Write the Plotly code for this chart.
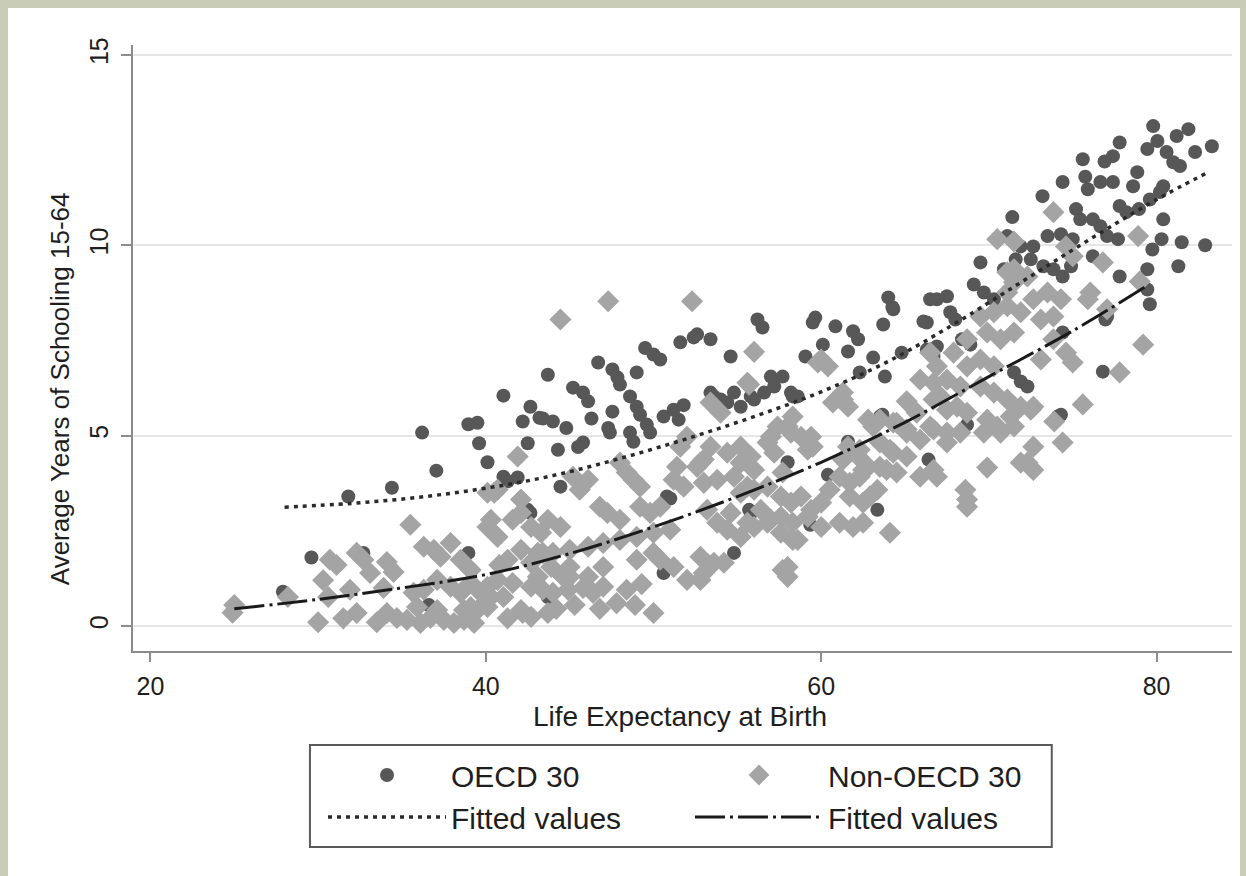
import plotly.graph_objects as go

# ---- OECD 30 (life expectancy, average years of schooling) ----
oecd_life = [
    27.9, 29.6, 31.8, 34.4, 36.2, 37.05, 38.96, 39.5, 39.6, 40.1, 41.05, 42.66, 42.2, 42.5, 43.2,
    43.7, 42.66, 38.96, 32.7, 36.6, 41.3, 41.9, 43.4, 44.0, 44.8, 44.3, 44.45, 45.2, 45.8, 46.1,
    46.3, 45.8, 45.5, 46.7, 47.55, 47.85, 48.0, 47.55, 47.3, 47.4, 48.6, 49.0, 49.2, 49.6, 49.8,
    49.0, 48.6, 48.8, 49.5, 50.0, 50.4, 50.6, 51.2, 51.8, 51.5, 51.6, 52.4, 52.6, 53.4, 54.6,
    56.2, 56.5, 59.06, 59.65, 50.8, 51.0, 58.0, 55.7, 59.35, 54.8, 43.7, 50.6, 53.4, 54.0, 54.8,
    55.8, 56.6, 57.2, 57.7, 58.3, 57.0, 41.05, 42.5, 59.5, 60.85, 61.9, 62.2, 60.1, 61.6, 63.8,
    63.1, 62.3, 64.0, 64.25, 63.7, 66.5, 66.3, 53.6, 54.4, 55.2, 56.0, 58.2, 58.6, 63.65, 61.6,
    60.4, 66.4, 55.9, 63.35, 79.8, 81.9, 81.2, 83.3, 82.3, 77.8, 77.4, 76.9, 75.6, 79.45, 80.05,
    80.6, 81.0, 81.4, 74.4, 75.75, 75.9, 76.65, 77.4, 78.85, 78.6, 73.2, 80.4, 77.8, 78.2, 78.95,
    79.6, 80.2, 75.2, 75.45, 76.2, 76.65, 80.4, 71.4, 80.3, 79.75, 79.45, 81.5, 81.3, 77.7, 77.8,
    77.05, 76.2, 75.0, 74.3, 73.5, 72.65, 71.9, 71.1, 74.9, 74.4, 73.85, 73.25, 72.5, 71.6, 70.9,
    69.5, 69.1, 69.7, 70.3, 79.45, 76.95, 76.8, 67.5, 66.9, 67.7, 68.0, 66.1, 64.3, 66.3, 66.7,
    71.9, 72.3, 68.7, 74.1, 71.5, 68.4, 68.9, 66.9, 74.4, 64.8, 77.05, 63.5, 74.3, 82.9, 79.6,
]
oecd_school = [
    0.9, 1.8, 3.4, 3.63, 5.08, 4.08, 5.3, 5.34, 4.8, 4.3, 6.05, 5.76, 5.37, 4.8, 5.47,
    6.6, 2.97, 1.92, 1.92, 0.55, 3.8, 3.9, 5.45, 5.37, 5.2, 4.63, 3.66, 6.26, 6.13, 5.9,
    5.45, 4.82, 4.7, 6.92, 6.74, 6.53, 6.34, 5.63, 5.2, 5.08, 6.03, 5.76, 5.55, 5.29, 5.08,
    6.66, 5.08, 4.84, 7.3, 7.13, 7.0, 5.5, 5.68, 5.8, 5.42, 7.45, 7.58, 7.66, 7.53, 7.08,
    8.05, 7.84, 7.08, 8.1, 3.4, 3.35, 4.3, 3.05, 2.66, 1.92, 0.76, 1.39, 6.13, 5.95, 6.13,
    6.03, 6.13, 6.29, 6.55, 6.03, 6.55, 3.92, 3.05, 7.97, 7.87, 7.74, 7.53, 7.39, 7.21, 6.55,
    7.05, 6.66, 8.63, 8.37, 7.92, 8.58, 7.97, 6.03, 5.87, 5.76, 5.95, 6.13, 6.03, 5.55, 4.84,
    3.97, 4.37, 3.0, 3.05, 13.13, 13.05, 12.87, 12.6, 12.45, 12.7, 12.34, 12.2, 12.26, 12.53, 12.74,
    12.45, 12.18, 12.08, 11.66, 11.8, 11.47, 11.66, 11.66, 11.92, 11.55, 11.29, 11.55, 11.03, 10.87, 10.95,
    11.2, 11.4, 10.95, 10.68, 10.68, 10.5, 10.68, 10.74, 10.16, 9.89, 9.37, 10.08, 9.45, 10.16, 9.18,
    10.24, 9.71, 10.16, 10.29, 10.24, 9.97, 9.97, 10.24, 9.45, 9.18, 9.37, 9.45, 9.63, 9.63, 9.37,
    9.55, 8.97, 8.76, 8.58, 8.84, 8.05, 6.68, 8.66, 8.58, 8.24, 8.05, 8.0, 8.32, 7.26, 7.08,
    6.42, 6.29, 5.29, 5.5, 6.66, 7.53, 7.39, 7.34, 7.71, 7.18, 8.13, 5.5, 5.55, 10.0, 8.45,
]

# ---- Non-OECD 30 ----
non_life = [
    24.9, 25.0, 28.2, 30.0, 30.3, 30.7, 31.1, 30.6, 31.5, 32.3, 32.3, 32.7, 33.1, 31.9, 33.5,
    34.1, 34.7, 34.1, 34.5, 33.9, 35.5, 36.3, 36.9, 37.3, 37.9, 35.7, 36.3, 35.9, 35.3, 36.1,
    36.7, 37.5, 38.1, 38.7, 37.1, 37.9, 38.5, 39.1, 39.7, 40.3, 38.7, 39.5, 40.1, 39.3, 40.3,
    40.7, 40.5, 42.1, 41.9, 41.6, 42.7, 43.3, 41.3, 42.1, 42.7, 43.4, 40.7, 41.6, 42.7, 43.4,
    42.7, 42.2, 47.3, 52.3, 44.45, 56.0, 55.7, 53.4, 40.1, 40.7, 42.1, 40.1, 38.5, 39.1, 43.7,
    44.45, 45.2, 46.1, 45.6, 48.8, 49.2, 48.0, 48.4, 46.8, 47.25, 48.0, 49.2, 49.8, 50.4, 51.2,
    51.8, 51.4, 52.6, 53.0, 51.6, 52.0, 55.2, 55.8, 57.0, 58.0, 58.8, 57.7, 55.2, 56.0, 54.6,
    56.0, 57.0, 57.6, 58.3, 58.0, 58.0, 50.0, 48.4, 52.0, 53.0, 53.6, 51.2, 50.4, 45.0, 46.1,
    47.0, 46.4, 44.9, 42.1, 41.05, 44.0, 43.7, 43.1, 44.0, 45.0, 46.1, 47.0, 48.0, 49.0, 50.0,
    51.0, 43.1, 45.0, 47.0, 49.0, 50.0, 40.1, 39.1, 37.1, 55.6, 54.0, 61.3, 61.6, 59.8, 60.4,
    65.1, 65.7, 66.7, 67.1, 57.4, 58.2, 59.4, 56.8, 57.2, 59.2, 59.5, 53.4, 54.4, 55.2, 56.0,
    53.8, 54.8, 55.6, 52.8, 53.0, 56.8, 57.6, 58.2, 58.8, 59.4, 60.0, 56.4, 56.8, 57.6, 58.3,
    59.2, 60.0, 53.2, 53.8, 54.4, 55.2, 55.6, 52.8, 54.2, 52.8, 58.6, 57.7, 61.6, 62.2, 62.8,
    61.1, 61.7, 62.3, 61.7, 62.5, 63.35, 63.9, 61.1, 61.9, 62.5, 64.1, 64.3, 65.1, 65.9, 66.7,
    63.5, 64.3, 65.1, 65.9, 66.7, 62.8, 63.1, 73.85, 78.9, 71.5, 76.8, 76.05, 75.9, 77.05, 79.0,
    79.2, 77.8, 75.6, 74.4, 72.65, 72.3, 69.9, 68.7, 72.65, 68.6, 66.9, 62.9, 60.5, 63.5, 62.5,
    61.3, 69.5, 70.3, 71.1, 71.9, 72.65, 73.5, 74.3, 73.85, 73.1, 69.9, 70.7, 71.5, 68.7, 67.9,
    68.7, 69.5, 70.3, 74.6, 75.0, 73.1, 66.5, 66.9, 67.5, 68.3, 69.5, 70.3, 71.1, 71.9, 72.65,
    65.9, 66.7, 67.5, 68.7, 69.9, 70.7, 71.5, 68.3, 67.5, 64.5, 65.1, 63.5, 62.3, 64.1, 64.5,
    73.85, 71.5, 71.1, 72.3, 75.0, 74.6, 70.5, 60.0, 60.7, 61.3, 58.3, 71.5, 71.1, 73.9, 71.9,
    68.7, 67.5, 69.7, 70.5, 71.3, 72.5, 68.1, 66.5, 44.2, 45.3, 46.8, 47.8, 48.9, 49.3, 45.8,
    44.6, 41.3, 40.8, 43.9,
]
non_school = [
    0.35, 0.55, 0.76, 0.1, 1.2, 1.74, 1.6, 0.76, 0.2, 0.34, 1.92, 1.74, 1.39, 0.95, 0.1,
    0.34, 0.21, 1.68, 1.42, 1.0, 2.66, 2.08, 2.0, 1.82, 2.18, 0.87, 0.95, 0.5, 0.16, 0.08,
    0.21, 0.16, 0.08, 0.16, 1.21, 1.03, 0.87, 1.13, 0.87, 0.76, 0.42, 0.42, 0.5, 0.08, 2.79,
    2.34, 3.5, 3.32, 4.45, 2.79, 2.6, 2.45, 1.74, 2.0, 1.66, 1.92, 1.21, 1.13, 1.03, 0.95,
    0.24, 0.34, 8.53, 8.53, 8.05, 7.2, 6.34, 5.87, 3.5, 3.58, 2.97, 2.6, 1.74, 1.47, 2.79,
    2.6, 3.92, 3.84, 3.58, 3.84, 3.66, 4.29, 4.03, 3.13, 2.97, 2.79, 3.13, 2.97, 3.13, 3.84,
    3.66, 4.18, 4.18, 4.37, 4.71, 4.97, 4.71, 4.45, 4.97, 5.24, 4.97, 4.03, 3.5, 3.58, 2.97,
    2.6, 2.79, 2.87, 2.26, 1.55, 1.29, 0.34, 0.95, 1.21, 1.39, 1.66, 1.55, 1.74, 1.55, 1.29,
    1.03, 0.87, 0.95, 0.42, 0.76, 0.87, 0.34, 1.92, 1.92, 2.0, 2.08, 2.18, 2.26, 2.34, 2.45,
    2.53, 1.29, 1.29, 1.55, 1.74, 1.92, 1.03, 0.5, 0.42, 6.39, 5.6, 5.95, 5.76, 6.92, 6.82,
    5.9, 5.6, 6.39, 6.03, 5.24, 5.08, 4.97, 4.82, 4.55, 4.63, 4.71, 4.71, 4.55, 4.29, 4.1,
    3.84, 3.92, 3.66, 4.29, 3.76, 3.66, 3.4, 3.24, 3.4, 3.05, 3.24, 3.05, 2.71, 2.45, 2.71,
    2.87, 2.6, 3.05, 2.71, 2.53, 2.34, 2.71, 1.82, 1.66, 1.21, 2.26, 1.47, 4.71, 4.45, 4.18,
    3.92, 3.76, 3.92, 3.4, 3.24, 3.58, 4.1, 2.71, 2.6, 2.71, 2.45, 5.34, 5.16, 4.89, 5.16,
    4.82, 4.55, 4.45, 3.92, 4.1, 5.42, 5.24, 10.87, 10.24, 10.1, 9.55, 8.76, 8.58, 8.32, 9.05,
    7.39, 6.66, 5.82, 4.82, 4.71, 4.29, 4.16, 3.32, 4.1, 3.58, 3.92, 3.4, 3.58, 4.18, 4.1,
    4.37, 8.13, 8.24, 8.4, 8.24, 8.58, 8.76, 8.58, 8.13, 8.05, 7.71, 7.53, 7.71, 7.53, 7.18,
    6.82, 7.0, 6.82, 7.18, 6.92, 7.0, 7.18, 6.82, 6.47, 6.29, 6.29, 6.13, 5.95, 5.76, 5.76,
    6.47, 5.95, 5.68, 5.6, 5.42, 5.08, 5.24, 5.08, 5.08, 5.34, 5.08, 5.42, 4.63, 4.63, 4.03,
    7.53, 9.03, 8.76, 9.18, 9.71, 9.97, 10.16, 7.0, 5.87, 6.13, 5.5, 9.37, 9.29, 5.37, 4.29,
    3.13, 4.82, 5.08, 5.24, 5.5, 5.68, 5.76, 5.24, 0.45, 0.55, 0.45, 0.6, 0.55, 1.1, 1.0,
    1.3, 0.2, 1.6, 1.55,
]

# ---- Fitted values ----
oecd_fit_life = [28, 32, 36, 40, 44, 48, 52, 56, 60, 64, 68, 72, 76, 80, 83]
oecd_fit_school = [3.12, 3.22, 3.38, 3.62, 3.95, 4.4, 4.92, 5.5, 6.15, 6.95, 7.95, 9.05, 10.15, 11.2, 11.9]
non_fit_life = [25, 30, 35, 40, 45, 50, 55, 60, 65, 70, 75, 79.3]
non_fit_school = [0.45, 0.7, 1.0, 1.35, 1.9, 2.6, 3.4, 4.3, 5.35, 6.55, 7.75, 8.9]

TEXT = "#1e1e1e"
AXIS = "#8c8c8c"
FONT = "Liberation Sans, Arial, sans-serif"

fig = go.Figure()

fig.add_trace(go.Scatter(
    x=oecd_life, y=oecd_school, mode="markers", name="OECD 30",
    marker=dict(symbol="circle", size=14, color="#575757", line=dict(width=0)),
    legend="legend",
))
fig.add_trace(go.Scatter(
    x=non_life, y=non_school, mode="markers", name="Non-OECD 30",
    marker=dict(symbol="diamond", size=17, color="#a4a4a4", line=dict(width=0)),
    legend="legend2",
))
fig.add_trace(go.Scatter(
    x=oecd_fit_life, y=oecd_fit_school, mode="lines", name="Fitted values",
    line=dict(color="#2a2a2a", width=3.5, dash="4px,5px", shape="spline"),
    legend="legend",
))
fig.add_trace(go.Scatter(
    x=non_fit_life, y=non_fit_school, mode="lines", name="Fitted values",
    line=dict(color="#1a1a1a", width=3, dash="30px,5px,3px,5px", shape="spline"),
    legend="legend2",
))

legend_common = dict(
    yanchor="top", xanchor="left", orientation="v",
    bgcolor="rgba(0,0,0,0)", borderwidth=0,
    font=dict(family=FONT, size=30, color=TEXT),
    traceorder="normal", tracegroupgap=0,
)

fig.update_layout(
    width=1246, height=876,
    margin=dict(l=133, r=14, t=45, b=225, pad=0),
    paper_bgcolor="#c9cdb8",
    plot_bgcolor="white",
    font=dict(family=FONT, color=TEXT),
    showlegend=True,
    legend=dict(x=0.1729, y=-0.1617, itemwidth=118, **legend_common),
    legend2=dict(x=0.5068, y=-0.1617, itemwidth=128, **legend_common),
    shapes=[
        # white page area inside the frame
        dict(type="rect", xref="paper", yref="paper", layer="below",
             x0=-0.1137, x1=1.0073, y0=-0.38, y1=1.061,
             fillcolor="white", line=dict(width=0)),
        # legend box
        dict(type="rect", xref="paper", yref="paper",
             x0=0.161, x1=0.836, y0=-0.3234, y1=-0.155,
             fillcolor="rgba(0,0,0,0)", line=dict(color="#5a5a5a", width=2)),
    ],
    annotations=[
        # axis titles, placed as in the Stata layout
        dict(text="Life Expectancy at Birth", xref="paper", yref="paper",
             x=0.498, y=-0.108, xanchor="center", yanchor="middle", showarrow=False,
             font=dict(family=FONT, size=28, color=TEXT)),
        dict(text="Average Years of Schooling 15-64", xref="paper", yref="paper",
             x=-0.0664, y=0.432, xanchor="center", yanchor="middle", showarrow=False,
             textangle=-90, font=dict(family=FONT, size=26, color=TEXT)),
    ],
)

fig.update_xaxes(
    range=[18.96, 84.5], tickvals=[20, 40, 60, 80],
    showgrid=False, zeroline=False,
    showline=True, linecolor=AXIS, linewidth=2,
    ticks="outside", ticklen=9, tickwidth=2, tickcolor=AXIS,
    tickfont=dict(family=FONT, size=25, color=TEXT),
    ticklabelstandoff=3,
)
fig.update_yaxes(
    range=[-0.657, 15.26], tickvals=[0, 5, 10, 15], tickangle=-90,
    showgrid=True, gridcolor="#e6e6e6", gridwidth=2, zeroline=False,
    showline=True, linecolor=AXIS, linewidth=2,
    ticks="outside", ticklen=10, tickwidth=2, tickcolor=AXIS,
    tickfont=dict(family=FONT, size=25, color=TEXT),
    ticklabelstandoff=3,
)

fig.write_html("out.html")
